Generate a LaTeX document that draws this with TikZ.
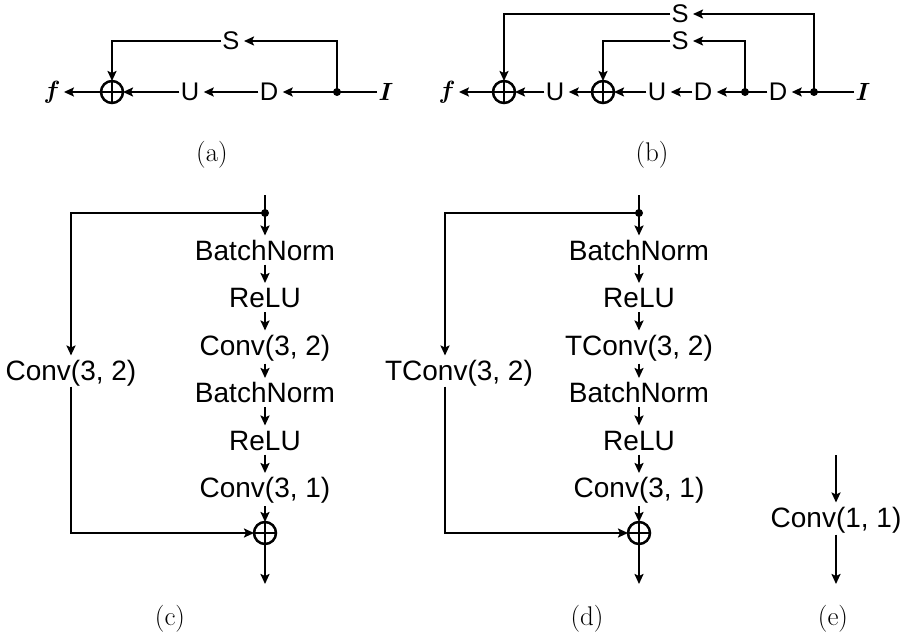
\documentclass[tikz,border=0pt]{standalone}
\usepackage{fontspec}
\setsansfont{Liberation Sans}
\usepackage{bm}
\usetikzlibrary{arrows.meta}
\begin{document}
\begin{tikzpicture}[x=1pt,y=-1pt,line width=2.5pt,
  arr/.style={-{Stealth[length=10pt,width=9pt,inset=2pt]}},
  toprow/.style={font=\sffamily\fontsize{25.5}{30}\selectfont, inner sep=0pt, outer sep=1.5pt, text height=18pt, text depth=0pt},
  mth/.style={font=\fontsize{30}{34}\selectfont, inner sep=0pt, outer sep=1.5pt},
  col/.style={font=\sffamily\fontsize{28}{34}\selectfont, inner sep=0pt, outer sep=4.5pt, text height=20pt, text depth=0pt},
  opl/.style={circle,draw,minimum size=22pt,inner sep=0pt,outer sep=0pt,
    path picture={\draw[line width=2.3pt] (path picture bounding box.north) -- (path picture bounding box.south)
      (path picture bounding box.west) -- (path picture bounding box.east);}},
  dotn/.style={circle,fill,inner sep=0pt,minimum size=8pt},
  captext/.style={font=\fontsize{27}{32}\selectfont, inner sep=0pt}
]
\useasboundingbox (0,0) rectangle (904,639);

% ---------- (a) ----------
\node[mth] (fa) at (52,92) {$\bm{f}$};
\node[opl] (oa) at (112,92) {};
\node[toprow] (ua) at (190,92) {U};
\node[toprow] (da) at (269,92) {D};
\node[dotn] (pa) at (337,92) {};
\node[mth] (ia) at (386,92) {$\bm{I}$};
\node[toprow] (sa) at (231,41) {S};
\draw (ia) -- (pa.center);
\draw[arr,shorten >=3pt] (pa.center) -- (da);
\draw[arr,shorten >=3pt] (da) -- (ua);
\draw[arr] (ua) -- (oa);
\draw[arr,shorten >=2pt] (oa) -- (fa);
\draw[arr,shorten >=3pt] (pa.center) |- (sa);
\draw[arr] (sa) -| (oa);
\node[captext] (capa) at (212,155) {(a)};

% ---------- (b) ----------
\node[mth] (fb) at (447,92) {$\bm{f}$};
\node[opl] (ob1) at (504,92) {};
\node[toprow] (ub1) at (555,92) {U};
\node[opl] (ob2) at (603,92) {};
\node[toprow] (ub2) at (657,92) {U};
\node[toprow] (db1) at (703,92) {D};
\node[dotn] (pb1) at (745,92) {};
\node[toprow] (db2) at (778,92) {D};
\node[dotn] (pb2) at (814,92) {};
\node[mth] (ib) at (863,92) {$\bm{I}$};
\node[toprow] (sb1) at (680,14) {S};
\node[toprow] (sb2) at (680,41) {S};
\draw (ib) -- (pb2.center);
\draw[arr,shorten >=3pt] (pb2.center) -- (db2);
\draw (db2) -- (pb1.center);
\draw[arr,shorten >=3pt] (pb1.center) -- (db1);
\draw[arr,shorten >=3pt] (db1) -- (ub2);
\draw[arr] (ub2) -- (ob2);
\draw[arr,shorten >=3pt] (ob2) -- (ub1);
\draw[arr] (ub1) -- (ob1);
\draw[arr,shorten >=2pt] (ob1) -- (fb);
\draw[arr,shorten >=3pt] (pb1.center) |- (sb2);
\draw[arr] (sb2) -| (ob2);
\draw[arr,shorten >=3pt] (pb2.center) |- (sb1);
\draw[arr] (sb1) -| (ob1);
\node[captext] (capb) at (652,155) {(b)};

% ---------- (c) ----------
\coordinate (tc) at (265,195);
\node[dotn] (pc) at (265,213) {};
\node[col] (c1) at (265,250) {BatchNorm};
\node[col] (c2) at (265,297.5) {ReLU};
\node[col] (c3) at (265,345) {Conv(3, 2)};
\node[col] (c4) at (265,392.5) {BatchNorm};
\node[col] (c5) at (265,440) {ReLU};
\node[col] (c6) at (265,487.5) {Conv(3, 1)};
\node[opl] (oc) at (265,533) {};
\coordinate (ec) at (265,584);
\node[col] (lc) at (71,370) {Conv(3, 2)};
\draw (tc) -- (pc.center);
\draw[arr] (pc.center) -- (c1);
\draw[arr] (c1) -- (c2);
\draw[arr] (c2) -- (c3);
\draw[arr,shorten <=4pt] (c3) -- (c4);
\draw[arr] (c4) -- (c5);
\draw[arr] (c5) -- (c6);
\draw[arr,shorten <=4pt] (c6) -- (oc);
\draw[arr] (oc) -- (ec);
\draw[arr] (pc.center) -| (lc);
\draw[arr,shorten <=2pt] (lc) |- (oc);
\node[captext] (capc) at (170,619) {(c)};

% ---------- (d) ----------
\coordinate (td) at (639,195);
\node[dotn] (pd) at (639,213) {};
\node[col] (d1) at (639,250) {BatchNorm};
\node[col] (d2) at (639,297.5) {ReLU};
\node[col] (d3) at (639,345) {TConv(3, 2)};
\node[col] (d4) at (639,392.5) {BatchNorm};
\node[col] (d5) at (639,440) {ReLU};
\node[col] (d6) at (639,487.5) {Conv(3, 1)};
\node[opl] (od) at (639,533) {};
\coordinate (ed) at (639,584);
\node[col] (ld) at (459,370) {TConv(3, 2)};
\draw (td) -- (pd.center);
\draw[arr] (pd.center) -- (d1);
\draw[arr] (d1) -- (d2);
\draw[arr] (d2) -- (d3);
\draw[arr,shorten <=4pt] (d3) -- (d4);
\draw[arr] (d4) -- (d5);
\draw[arr] (d5) -- (d6);
\draw[arr,shorten <=4pt] (d6) -- (od);
\draw[arr] (od) -- (ed);
\draw[arr] (pd.center) -| ([xshift=-14pt]ld.north);
\draw[arr,shorten <=2pt] ([xshift=-14pt]ld.south) |- (od);
\node[captext] (capd) at (587,619) {(d)};

% ---------- (e) ----------
\coordinate (te) at (836,455);
\node[col] (ce) at (836,517) {Conv(1, 1)};
\coordinate (ee) at (836,584);
\draw[arr] (te) -- (ce);
\draw[arr,shorten <=3pt] (ce) -- (ee);
\node[captext] (cape) at (833,619) {(e)};
\end{tikzpicture}
\end{document}
